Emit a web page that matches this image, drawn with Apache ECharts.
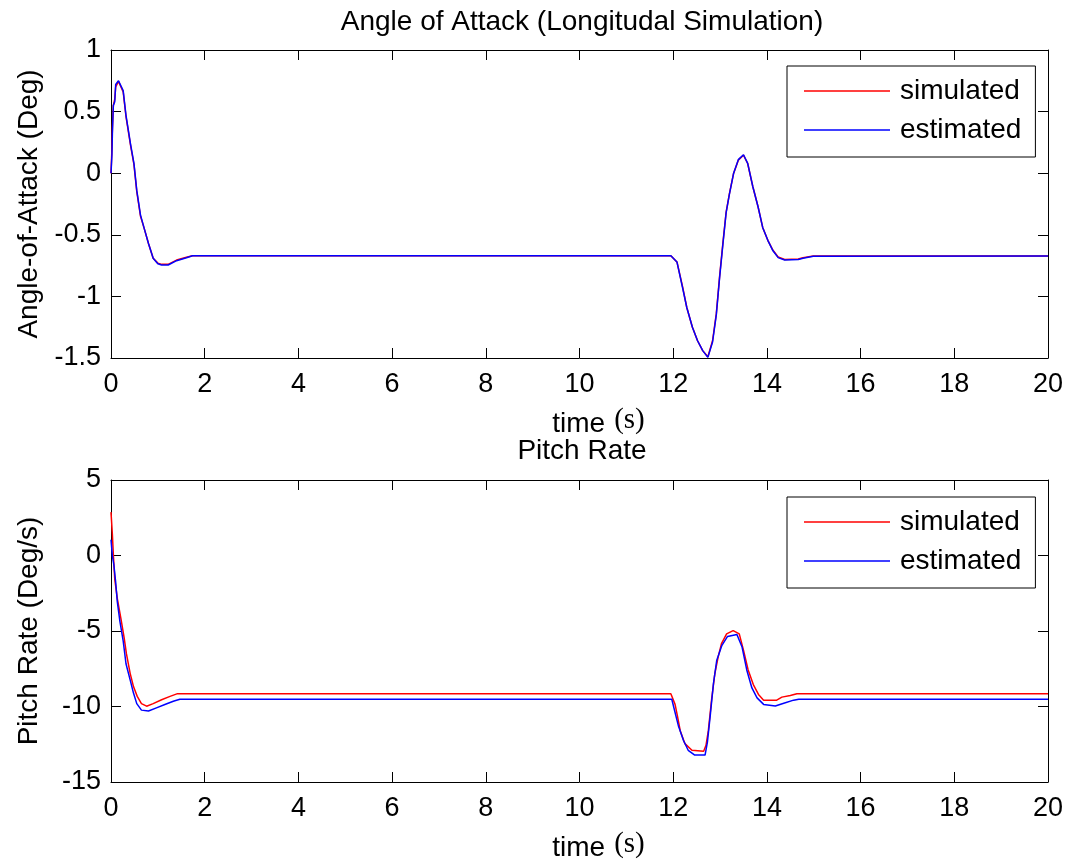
<!DOCTYPE html>
<html>
<head>
<meta charset="utf-8">
<script src="https://cdn.jsdelivr.net/npm/echarts@6/dist/echarts.min.js"></script>
<style>
html,body{margin:0;padding:0;background:#fff;}
#chart{width:1067px;height:863px;}
</style>
</head>
<body>
<div id="chart"></div>
<script>
// ---- Data ----
const titles = ['Angle of Attack (Longitudal Simulation)', 'Pitch Rate'];
const seriesNames = ['simulated', 'estimated'];
const yNames = ['Angle-of-Attack (Deg)', 'Pitch Rate (Deg/s)'];

// Angle of attack (deg), time (s)
const alphaT = [0, 0.02, 0.03, 0.05, 0.08, 0.1, 0.16, 0.26, 0.32, 0.42,
  0.49, 0.55, 0.63, 0.71, 0.80, 0.90, 1.0, 1.08, 1.22, 1.40,
  1.61, 1.74, 11.95, 12.08, 12.2, 12.29, 12.41, 12.52, 12.63, 12.74,
  12.84, 12.92, 12.99, 13.06, 13.13, 13.2, 13.29, 13.39, 13.5, 13.59,
  13.7, 13.81, 13.91, 14.02, 14.13, 14.24, 14.38, 14.67, 14.77, 14.99, 20];
const alphaSim = [0, 0.2, 0.37, 0.55, 0.6, 0.70, 0.745, 0.66, 0.46, 0.22,
  0.07, -0.15, -0.35, -0.45, -0.57, -0.69, -0.73, -0.74, -0.74, -0.705,
  -0.683, -0.67, -0.67, -0.72, -0.92, -1.09, -1.25, -1.36, -1.44, -1.49,
  -1.36, -1.14, -0.84, -0.57, -0.315, -0.165, 0.0, 0.106, 0.146, 0.079,
  -0.11, -0.27, -0.44, -0.545, -0.626, -0.68, -0.70, -0.697, -0.686, -0.672, -0.672];
const alphaEst = [0, 0.15, 0.33, 0.55, 0.58, 0.72, 0.75, 0.67, 0.47, 0.23,
  0.08, -0.14, -0.34, -0.45, -0.57, -0.69, -0.735, -0.745, -0.745, -0.71,
  -0.686, -0.67, -0.67, -0.72, -0.93, -1.09, -1.25, -1.36, -1.44, -1.495,
  -1.37, -1.15, -0.85, -0.58, -0.32, -0.17, 0.0, 0.11, 0.15, 0.08,
  -0.11, -0.27, -0.44, -0.545, -0.63, -0.685, -0.705, -0.70, -0.69, -0.675, -0.672];

// Pitch rate (deg/s)
const qSimT = [0, 0.03, 0.05, 0.08, 0.135, 0.21, 0.28, 0.33, 0.41, 0.48,
  0.56, 0.65, 0.76, 0.9, 1.08, 1.26, 1.42,
  11.95, 12.04, 12.09, 12.15, 12.25, 12.4, 12.65, 12.7, 12.75, 12.82,
  12.89, 12.96, 13.03, 13.14, 13.28, 13.41, 13.5, 13.6, 13.71, 13.82,
  13.93, 14.21, 14.32, 14.5, 14.64, 20];
const qSim = [2.87, 1.36, 0.06, -1.56, -2.85, -4.15, -5.44, -6.52, -7.82, -8.68,
  -9.33, -9.81, -9.98, -9.81, -9.55, -9.33, -9.15,
  -9.15, -9.86, -10.62, -11.6, -12.46, -12.9, -12.96, -12.57, -11.6, -9.53,
  -7.8, -6.71, -5.84, -5.19, -4.97, -5.19, -6.27, -7.58, -8.55, -9.2,
  -9.58, -9.58, -9.38, -9.27, -9.15, -9.15];
const qEstT = [0, 0.03, 0.06, 0.1, 0.135, 0.19, 0.26, 0.32, 0.41, 0.48,
  0.55, 0.65, 0.8, 0.97, 1.15, 1.33, 1.47,
  11.97, 12.04, 12.11, 12.22, 12.32, 12.46, 12.68, 12.73, 12.79,
  12.86, 12.93, 13.04, 13.16, 13.36, 13.47, 13.57, 13.68, 13.79, 13.93,
  14.18, 14.36, 14.57, 14.68, 20];
const qEst = [1.04, -0.04, -0.58, -1.77, -3.07, -4.36, -5.66, -7.17, -8.25, -9.11,
  -9.81, -10.24, -10.3, -10.09, -9.87, -9.65, -9.52,
  -9.52, -10.4, -11.27, -12.25, -12.9, -13.22, -13.22, -12.36, -10.62,
  -8.45, -6.93, -5.95, -5.36, -5.23, -6.06, -7.58, -8.77, -9.43, -9.86,
  -9.97, -9.79, -9.58, -9.52, -9.52];

// Axis ranges
const xRange = {min: 0, max: 20, interval: 2};
const yRanges = [{min: -1.5, max: 1, interval: 0.5}, {min: -15, max: 5, interval: 5}];

// ---- Build chart ----
const pairs = (t, v) => t.map((x, i) => [x, v[i]]);
const FONT = 'Liberation Sans, Arial, sans-serif';
const txt = {fontFamily: FONT, fontSize: 28, color: '#000'};
const tickTxt = {fontFamily: FONT, fontSize: 27, color: '#000'};

const grids = [
  {left: 111, right: 19, top: 50, height: 308},
  {left: 111, right: 19, top: 480, height: 307}
];

const axLine = {show: true, onZero: false, lineStyle: {color: '#000', width: 1}};
const axTick = {show: true, inside: true, length: 10, lineStyle: {color: '#000', width: 1}};

const xAxis = [];
const yAxis = [];
[0, 1].forEach(g => {
  xAxis.push({
    type: 'value', gridIndex: g, position: 'bottom', ...xRange,
    axisLine: axLine, axisTick: axTick, splitLine: {show: false},
    axisLabel: {...tickTxt, margin: 13},
    name: '{a|time}{b|(s)}', nameLocation: 'middle', nameGap: 48,
    nameTextStyle: {padding: [0, 0, 0, 38], rich: {
      a: {fontFamily: FONT, fontSize: 28, color: '#000'},
      b: {fontFamily: 'Liberation Serif, serif', fontSize: 29, color: '#000', padding: [0, 0, 7, 9]}
    }}
  });
  xAxis.push({
    type: 'value', gridIndex: g, position: 'top', ...xRange,
    axisLine: axLine, axisTick: axTick, splitLine: {show: false},
    axisLabel: {show: false}
  });
  yAxis.push({
    type: 'value', gridIndex: g, position: 'left', ...yRanges[g],
    axisLine: axLine, axisTick: axTick, splitLine: {show: false},
    axisLabel: {...tickTxt, margin: 10},
    name: yNames[g], nameLocation: 'middle', nameGap: 68,
    nameTextStyle: {...txt}
  });
  yAxis.push({
    type: 'value', gridIndex: g, position: 'right', ...yRanges[g],
    axisLine: axLine, axisTick: axTick, splitLine: {show: false},
    axisLabel: {show: false}
  });
});

const lineSeries = (name, data, g, color) => ({
  name, type: 'line', data, xAxisIndex: g * 2, yAxisIndex: g * 2,
  symbol: 'none', showSymbol: false, smooth: false,
  lineStyle: {color, width: 1.5}, itemStyle: {color},
  animation: false
});

const legendCommon = {
  data: seriesNames, orient: 'vertical', left: 787,
  icon: 'rect', itemWidth: 86, itemHeight: 1.5, itemGap: 11,
  backgroundColor: '#fff', borderColor: '#000', borderWidth: 1, borderRadius: 0,
  padding: [11, 14, 13, 17], textStyle: {...txt, padding: [0, 0, 0, 5]},
  selectedMode: false
};

const option = {
  backgroundColor: '#fff',
  animation: false,
  title: [
    {text: titles[0], left: 577, top: 3, textAlign: 'center', textStyle: {...txt, fontWeight: 'normal'}},
    {text: titles[1], left: 577, top: 432, textAlign: 'center', textStyle: {...txt, fontWeight: 'normal'}}
  ],
  legend: [
    {...legendCommon, top: 66},
    {...legendCommon, top: 497}
  ],
  grid: grids,
  xAxis, yAxis,
  series: [
    lineSeries(seriesNames[0], pairs(alphaT, alphaSim), 0, '#ff0000'),
    lineSeries(seriesNames[1], pairs(alphaT, alphaEst), 0, '#0000ff'),
    lineSeries(seriesNames[0], pairs(qSimT, qSim), 1, '#ff0000'),
    lineSeries(seriesNames[1], pairs(qEstT, qEst), 1, '#0000ff')
  ]
};

const chart = echarts.init(document.getElementById('chart'), null, {renderer: 'canvas'});
chart.setOption(option);
</script>
</body>
</html>
